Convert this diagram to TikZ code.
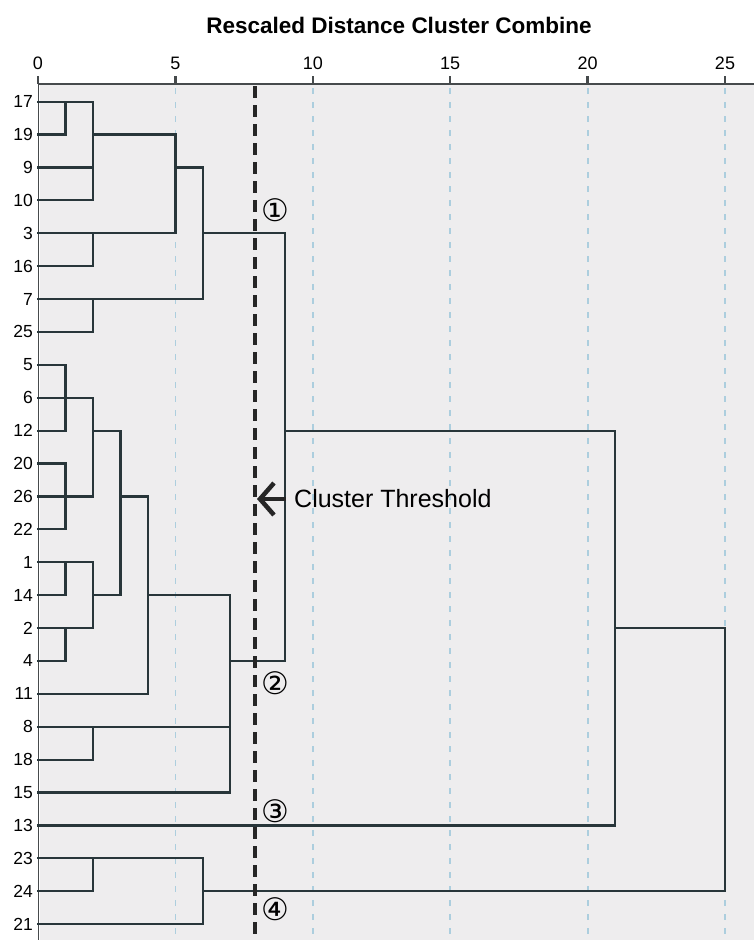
\documentclass[tikz,border=0pt]{standalone}
\usepackage{fontspec}
\setmainfont{Liberation Sans}
\newfontfamily\circfont{DejaVu Sans}
\usetikzlibrary{arrows.meta}

\definecolor{panel}{RGB}{238,237,238}
\definecolor{gridblue}{RGB}{172,206,222}
\definecolor{treeline}{RGB}{40,54,58}
\definecolor{axisgray}{RGB}{70,74,76}

\begin{document}
\begin{tikzpicture}[x=1pt,y=-1pt]
\tikzset{
  branch/.style={draw=treeline,line width=2.2pt,line cap=rect},
  leaf/.style={anchor=east,inner sep=0pt,font=\fontsize{17.5}{17.5}\selectfont},
  ticklab/.style={inner sep=0pt,font=\fontsize{18}{18}\selectfont},
  gridline/.style={draw=gridblue,line width=1.8pt,dash pattern=on 6pt off 8pt},
  cutline/.style={draw=black!85,line width=4pt,dash pattern=on 12pt off 7pt},
  marker/.style={inner sep=0pt,font=\circfont\fontsize{31}{31}\selectfont}
}
\useasboundingbox (0,0) rectangle (754,940);

%-- Panel, grid and axis --
\fill[panel] (40,85) rectangle (754,940);
\foreach \v in {5,10,15,20,25}
  \draw[gridline] ({38+27.48*\v},88) -- ({38+27.48*\v},940);
\draw[axisgray,line width=2pt] (38,83.5) -- (754,83.5);
\draw[axisgray,line width=1.5pt] (38.5,83.5) -- (38.5,940);
\foreach \v in {0,5,...,25} {
  \draw[axisgray,line width=2.5pt] ({38+27.48*\v},76) -- ({38+27.48*\v},83.5);
  \node[ticklab] (t\v) at ({38+27.48*\v},63) {\v};
}
\node[font=\bfseries\fontsize{22.5}{22.5}\selectfont] (title) at (399,25)
  {Rescaled Distance Cluster Combine};

%-- Dendrogram --
\begin{scope}[shift={(38,101.6)},x=27.48pt,y=-32.9pt]
  % leaves: label / length of first segment
  \foreach \lab/\len [count=\i from 0] in
    {17/2,19/1,9/2,10/2,3/5,16/2,7/6,25/2,5/1,6/2,12/1,20/1,26/2,
     22/1,1/2,14/1,2/2,4/1,11/4,8/7,18/2,15/7,13/21,23/6,24/2,21/6} {
    \node[leaf] (l\lab) at (-0.18,\i) {\lab};
    \draw[branch] (0,\i) -- (\len,\i);
  }
  % joins: x / from row / to row
  \foreach \x/\a/\b in
    {1/0/1,1/8/10,1/11/13,1/14/15,1/16/17,
     2/0/3,2/4/5,2/6/7,2/9/12,2/14/16,2/19/20,2/23/24,
     3/10/15,4/12/18,5/1/4,6/2/6,6/23/25,7/15/21,
     9/4/17,21/10/22,25/16/24}
    \draw[branch] (\x,\a) -- (\x,\b);
  % links: row / from x / to x
  \foreach \y/\a/\b in
    {1/2/5,2/5/6,4/6/9,10/2/3,10/9/21,12/3/4,
     15/2/3,15/4/7,17/7/9,16/21/25,24/6/25}
    \draw[branch] (\a,\y) -- (\b,\y);
\end{scope}

%-- Threshold --
\draw[cutline] (255,86) -- (255,940);
\coordinate (cut) at (257,499);
\node[anchor=west,inner sep=0pt,inner xsep=8pt,
  font=\fontsize{25}{25}\selectfont] (thr) at (286,499) {Cluster Threshold};
\draw[black!85,line width=4.5pt,-{Straight Barb[length=14pt,width=32pt]}]
  (thr.west) -- (cut);

\node[marker] (c1) at (275,210) {①};
\node[marker] (c2) at (275,683) {②};
\node[marker] (c3) at (275,811) {③};
\node[marker] (c4) at (275,909) {④};
\end{tikzpicture}
\end{document}
